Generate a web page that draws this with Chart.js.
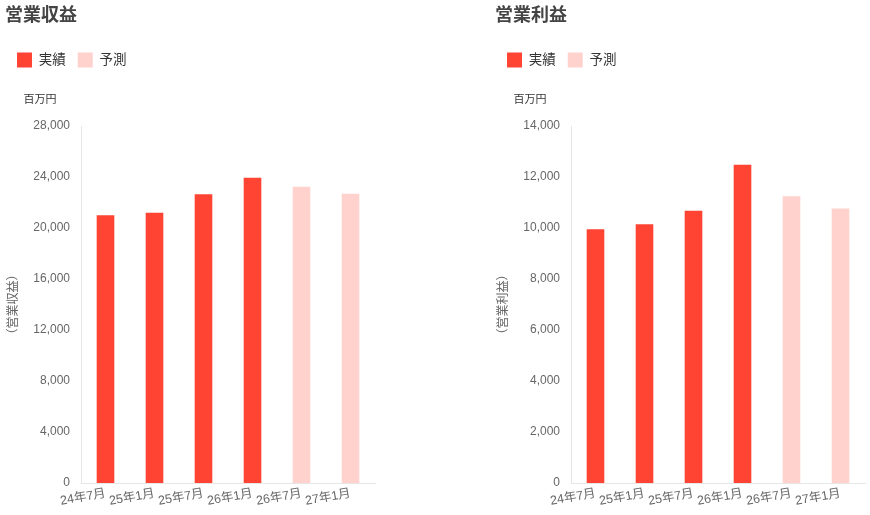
<!DOCTYPE html>
<html lang="ja">
<head>
<meta charset="utf-8">
<script src="https://cdn.jsdelivr.net/npm/chart.js@4"></script>
<style>
  body { margin: 0; background: #fff; }
  .box { position: absolute; top: 0; width: 380px; height: 515px; }
  #revBox { left: 0; }
  #profBox { left: 490px; }
</style>
</head>
<body>
<div class="box" id="revBox"><canvas id="revChart"></canvas></div>
<div class="box" id="profBox"><canvas id="profChart"></canvas></div>
<script>
const periods = ['24年7月', '25年1月', '25年7月', '26年1月', '26年7月', '27年1月'];
const seriesNames = ['実績', '予測'];

// 営業収益 (百万円)
const revenueActual   = [21000, 21200, 22650, 23950, null, null];
const revenueForecast = [null, null, null, null, 23230, 22680];
// 営業利益 (百万円)
const profitActual   = [9950, 10150, 10680, 12480, null, null];
const profitForecast = [null, null, null, null, 11250, 10760];

const actualColor = '#FF4433';
const forecastColor = '#FFD2CE';
const unitLabel = '百万円';
const fontFamily = '"Liberation Sans", Arial, "Noto Sans CJK JP", sans-serif';

// unit text above the y axis
const unitPlugin = {
  id: 'unitText',
  afterDraw(chart) {
    const { ctx, chartArea } = chart;
    ctx.save();
    ctx.font = '11px ' + fontFamily;
    ctx.fillStyle = '#333';
    ctx.textAlign = 'center';
    ctx.textBaseline = 'middle';
    ctx.fillText(unitLabel, chartArea.left - 41, chartArea.top - 26);
    ctx.restore();
  }
};

function makeChart(id, title, axisTitle, actual, forecast, max, step) {
  return new Chart(document.getElementById(id), {
    type: 'bar',
    data: {
      labels: periods,
      datasets: [
        { label: seriesNames[0], data: actual, backgroundColor: actualColor },
        { label: seriesNames[1], data: forecast, backgroundColor: forecastColor }
      ]
    },
    options: {
      responsive: true,
      maintainAspectRatio: false,
      animation: false,
      categoryPercentage: 1,
      barPercentage: 0.36,
      layout: { padding: { top: 0, left: 5, right: 5, bottom: 0 } },
      scales: {
        x: {
          stacked: true,
          grid: { display: false, drawTicks: false },
          border: { color: '#e6e6e6' },
          ticks: {
            color: '#666',
            autoSkip: false,
            minRotation: 10,
            maxRotation: 10,
            padding: 3,
            font: { family: fontFamily, size: 12.5 }
          },
          afterFit(scale) { scale.height = 32; }
        },
        y: {
          stacked: true,
          min: 0,
          max: max,
          grid: { display: false, drawTicks: false },
          border: { color: '#e6e6e6' },
          ticks: {
            stepSize: step,
            color: '#666',
            padding: 11,
            font: { family: fontFamily, size: 12 },
            callback: v => v.toLocaleString('en-US')
          },
          title: {
            display: true,
            text: axisTitle,
            color: '#666',
            padding: { top: 1, bottom: 0 },
            font: { family: fontFamily, size: 12 }
          },
          afterFit(scale) { scale.width = 76; }
        }
      },
      plugins: {
        title: {
          display: true,
          text: title,
          align: 'start',
          color: '#444',
          padding: { top: 5, bottom: 14 },
          font: { family: fontFamily, size: 18, weight: 'bold' }
        },
        legend: {
          align: 'start',
          labels: {
            boxWidth: 15,
            boxHeight: 15,
            padding: 12,
            color: '#333',
            font: { family: fontFamily, size: 13.5 }
          }
        },
        subtitle: {
          display: true,
          weight: 500,
          text: ' ',
          padding: { top: 0, bottom: 34 },
          font: { size: 12 }
        },
        tooltip: { enabled: false }
      }
    },
    plugins: [unitPlugin]
  });
}

makeChart('revChart', '営業収益', '（営業収益）', revenueActual, revenueForecast, 28000, 4000);
makeChart('profChart', '営業利益', '（営業利益）', profitActual, profitForecast, 14000, 2000);
</script>
</body>
</html>
